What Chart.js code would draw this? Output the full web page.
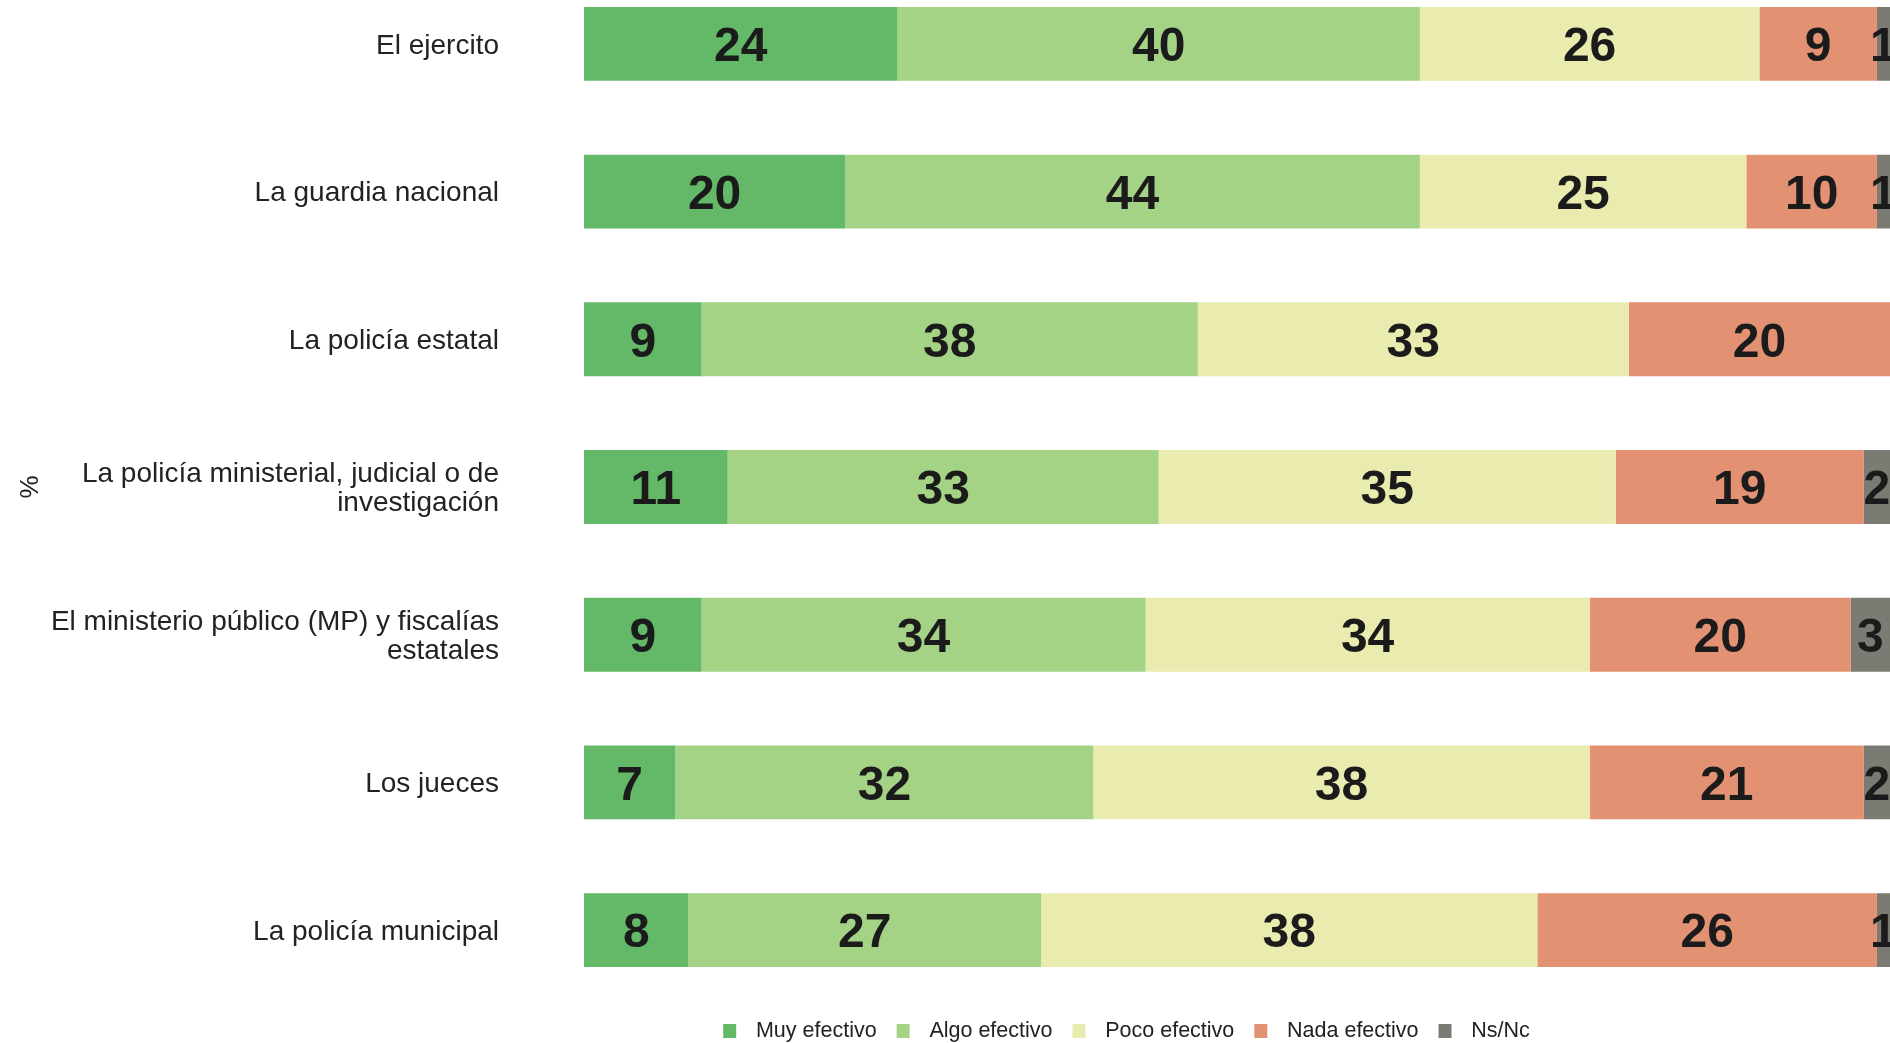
<!DOCTYPE html>
<html>
<head>
<meta charset="utf-8">
<script src="https://cdn.jsdelivr.net/npm/chart.js@4.4.1/dist/chart.umd.min.js"></script>
<style>
    body { margin: 0; background: #ffffff; overflow: hidden; }
    #grafic { position: absolute; left: 0; top: -30px; }
</style>
</head>
<body>
<canvas id="grafic" width="1890" height="1087"></canvas>
<script>

let institucions = [
    "El ejercito",
    "La guardia nacional",
    "La policía estatal",
    ["La policía ministerial, judicial o de", "investigación"],
    ["El ministerio público (MP) y fiscalías", "estatales"],
    "Los jueces",
    "La policía municipal"
];

let muyEfectivo = [24, 20, 9, 11, 9, 7, 8];
let algoEfectivo = [40, 44, 38, 33, 34, 32, 27];
let pocoEfectivo = [26, 25, 33, 35, 34, 38, 38];
let nadaEfectivo = [9, 10, 20, 19, 20, 21, 26];
let nsNc = [1, 1, 0, 2, 3, 2, 1];

let font = '"Liberation Sans", Arial, sans-serif';

// numbers written in the middle of every segment
const etiquetes = {
    id: "etiquetes",
    afterDatasetsDraw(chart) {
        let ctx = chart.ctx;
        let mida = 48;
        ctx.save();
        ctx.font = "bold " + mida + "px " + font;
        ctx.fillStyle = "#1b1b1b";
        ctx.textAlign = "center";
        ctx.textBaseline = "alphabetic";
        chart.data.datasets.forEach((ds, i) => {
            chart.getDatasetMeta(i).data.forEach((barra, j) => {
                if (!ds.data[j]) {
                    return;
                }
                let p = barra.getCenterPoint();
                // digits centred on the bar: baseline half a cap height below
                ctx.fillText(ds.data[j], p.x, p.y + mida * 0.36);
            });
        });
        ctx.restore();
    }
};

// the legend row sits right of the canvas centre
const moureLlegenda = {
    id: "moureLlegenda",
    afterLayout(chart) {
        let lg = chart.legend;
        lg.left += 177;
        lg.right += 177;
    }
};

new Chart(document.getElementById("grafic"), {
    type: "bar",
    data: {
        labels: institucions,
        datasets: [
            { label: "Muy efectivo", data: muyEfectivo, backgroundColor: "#63b967" },
            { label: "Algo efectivo", data: algoEfectivo, backgroundColor: "#a4d386" },
            { label: "Poco efectivo", data: pocoEfectivo, backgroundColor: "#eaebae" },
            { label: "Nada efectivo", data: nadaEfectivo, backgroundColor: "#e29273" },
            { label: "Ns/Nc", data: nsNc, backgroundColor: "#7b7b73" }
        ]
    },
    options: {
        indexAxis: "y",
        responsive: false,
        animation: false,
        devicePixelRatio: 1,
        categoryPercentage: 1,
        barPercentage: 0.5,
        layout: { padding: 0 },
        scales: {
            x: {
                stacked: true,
                min: 0,
                max: 100,
                display: false
            },
            y: {
                stacked: true,
                grid: { display: false, drawTicks: false },
                border: { display: false },
                ticks: {
                    padding: 85,
                    labelOffset: 2,
                    color: "#222222",
                    font: { family: font, size: 28, lineHeight: 1.05 }
                },
                title: {
                    display: true,
                    text: "%",
                    color: "#222222",
                    font: { family: font, size: 26 },
                    padding: { top: 15 }
                },
                afterFit(scale) {
                    // bars fill the full height, no room kept above or below
                    scale.width = 584;
                    scale.paddingTop = 0;
                    scale.paddingBottom = 0;
                }
            }
        },
        plugins: {
            tooltip: { enabled: false },
            legend: {
                position: "bottom",
                labels: {
                    color: "#222222",
                    font: { family: font, size: 21.5 },
                    boxWidth: 31,
                    boxHeight: 32,
                    padding: 11,
                    // a thick white outline leaves a small square and more room before the text
                    generateLabels(chart) {
                        let items = Chart.defaults.plugins.legend.labels.generateLabels(chart);
                        items.forEach(item => {
                            item.lineWidth = 18;
                            item.strokeStyle = "#ffffff";
                        });
                        return items;
                    }
                }
            }
        }
    },
    plugins: [etiquetes, moureLlegenda]
});
</script>
</body>
</html>
